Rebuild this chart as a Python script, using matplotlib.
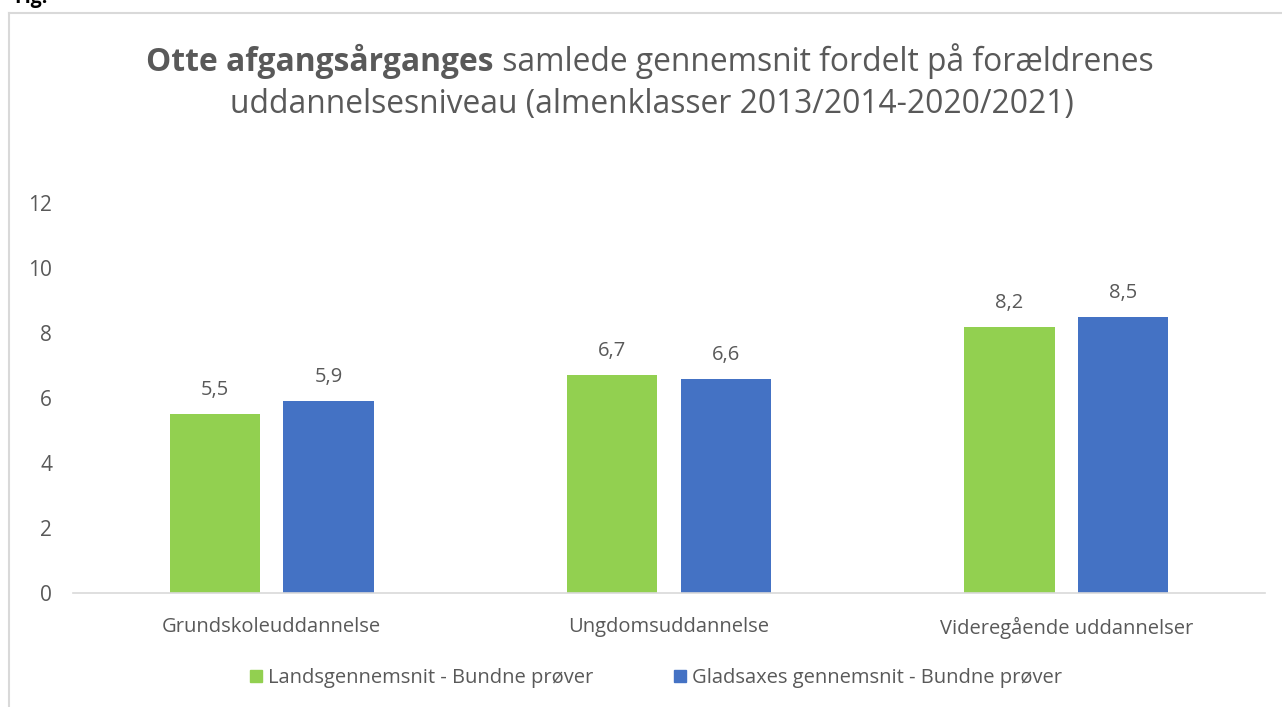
import numpy as np
import matplotlib
matplotlib.use("Agg")
import matplotlib.pyplot as plt
from matplotlib.lines import Line2D
from matplotlib.patches import Patch

plt.rcParams['font.family'] = ['Open Sans', 'DejaVu Sans']

categories = ["Grundskoleuddannelse", "Ungdomsuddannelse", "Videregående uddannelser"]
lands = [5.5, 6.7, 8.2]
gladsaxe = [5.9, 6.6, 8.5]
series_names = ["Landsgennemsnit - Bundne prøver", "Gladsaxes gennemsnit - Bundne prøver"]
yticks = [0, 2, 4, 6, 8, 10, 12]

GREEN = "#92D050"
BLUE = "#4472C4"
TXT = "#595959"

W, H = 1282, 707
fig = plt.figure(figsize=(W / 100, H / 100), dpi=100)
ax = fig.add_axes([73 / W, 1 - 593 / H, (1265 - 73) / W, (593 - 203) / H])

x = np.arange(len(categories))
bw = 0.227
off = 0.143
b1 = ax.bar(x - off, lands, bw, color=GREEN)
b2 = ax.bar(x + off, gladsaxe, bw, color=BLUE)
for bars, vals in [(b1, lands), (b2, gladsaxe)]:
    for r, v in zip(bars, vals):
        ax.annotate(f"{v:.1f}".replace(".", ","), (r.get_x() + r.get_width() / 2, v),
                    xytext=(0, 10), textcoords="offset points", ha="center", va="bottom",
                    fontsize=14.5, color=TXT)

ax.set_xlim(-0.5, 2.5)
ax.set_ylim(0, 12)
ax.set_yticks(yticks)
ax.set_yticklabels([str(t) for t in yticks], fontsize=15, color=TXT)
ax.set_xticks(x)
ax.set_xticklabels(categories, fontsize=14.5, color=TXT)
ax.tick_params(axis="both", length=0)
ax.tick_params(axis="y", pad=15)
ax.tick_params(axis="x", pad=17)
for s in ["top", "right", "left"]:
    ax.spines[s].set_visible(False)
ax.spines["bottom"].set_color("#d9d9d9")
ax.spines["bottom"].set_linewidth(1.2)

# outer chart frame (top and left edges visible)
fig.add_artist(Line2D([9 / W, 1.0], [1 - 13 / H, 1 - 13 / H], color="#d9d9d9", lw=1.5,
                      transform=fig.transFigure))
fig.add_artist(Line2D([9 / W, 9 / W], [0, 1 - 13 / H], color="#d9d9d9", lw=1.5,
                      transform=fig.transFigure))
fig.text(48 / W, 1 - 3 / H, "Fig.", fontsize=14, fontweight="bold", color="black",
         va="baseline", ha="right")

# title with bold lead-in
bold_part = "Otte afgangsårganges"
rest_part = " samlede gennemsnit fordelt på forældrenes"
t1 = fig.text(0, 1 - 61 / H, bold_part, fontsize=22.9, fontweight="bold", color=TXT, va="center")
t2 = fig.text(0, 1 - 61 / H, rest_part, fontsize=22.9, color=TXT, va="center")
fig.canvas.draw()
r = fig.canvas.get_renderer()
w1 = t1.get_window_extent(r).width
w2 = t2.get_window_extent(r).width
x0 = 650 - (w1 + w2) / 2
t1.set_x(x0 / W)
t2.set_x((x0 + w1) / W)
fig.text(652 / W, 1 - 104 / H, "uddannelsesniveau (almenklasser 2013/2014-2020/2021)",
         fontsize=22.9, color=TXT, ha="center", va="center")

handles = [Patch(color=GREEN), Patch(color=BLUE)]
fig.legend(handles, series_names, loc="center", bbox_to_anchor=(656 / W, 1 - 678 / H), ncol=2,
           frameon=False, fontsize=14.5, labelcolor=TXT, handlelength=0.6, handleheight=0.6,
           handletextpad=0.3, columnspacing=4.0)

fig.savefig("out.png", dpi=100)
